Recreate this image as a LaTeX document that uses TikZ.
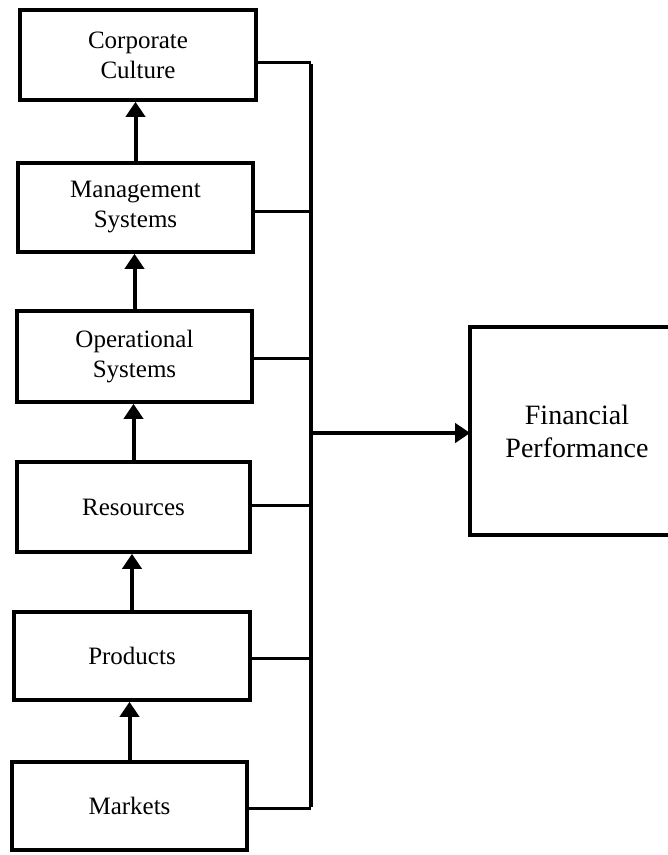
\documentclass[tikz,border=0pt]{standalone}
\usepackage{fontspec}
\setmainfont{Liberation Serif}
\usetikzlibrary{arrows.meta}
\begin{document}
\begin{tikzpicture}[x=1pt,y=-1pt,
  box/.style={draw, line width=3.6pt, rectangle, align=center, inner sep=0pt,
    font=\fontsize{25}{30}\selectfont},
  stub/.style={line width=3pt},
  bus/.style={line width=3.8pt},
  up/.style={line width=4pt, -{Triangle[length=15pt,width=19pt]}},
  right/.style={line width=4pt, -{Triangle[length=15pt,width=19pt]}}]
\useasboundingbox (0,0) rectangle (668,855);
\node[box, minimum width=236pt, minimum height=90pt] (corp) at (138,55) {Corporate\\Culture};
\node[box, minimum width=235pt, minimum height=89pt] (mgmt) at (135.5,207.5) {Management\\Systems};
\node[box, minimum width=235pt, minimum height=91pt] (oper) at (134.5,356.5) {Operational\\Systems};
\node[box, minimum width=233pt, minimum height=90pt] (res) at (133.5,507) {Resources};
\node[box, minimum width=236pt, minimum height=88pt] (prod) at (132,656) {Products};
\node[box, minimum width=235pt, minimum height=88pt] (mark) at (129.5,806) {Markets};
\node[box, draw=none, minimum width=210pt, minimum height=204pt, font=\fontsize{28}{33}\selectfont] (fin) at (577,431) {Financial\\Performance};
\draw[line width=3.6pt] ([xshift=30pt]fin.north east) -- (fin.north west) -- (fin.south west) -- ([xshift=30pt]fin.south east);
\coordinate (b1) at (311,62);
\coordinate (b2) at (311,211);
\coordinate (b3) at (311,358);
\coordinate (bm) at (311,433);
\coordinate (b4) at (311,505);
\coordinate (b5) at (311,658);
\coordinate (b6) at (311,808);
\draw[bus] ([yshift=-1.5pt]b1) -- ([yshift=1.5pt]b6);
\draw[stub] (corp.east |- b1) -- (b1);
\draw[stub] (mgmt.east |- b2) -- (b2);
\draw[stub] (oper.east |- b3) -- (b3);
\draw[stub] (res.east |- b4) -- (b4);
\draw[stub] (prod.east |- b5) -- (b5);
\draw[stub] (mark.east |- b6) -- (b6);
\draw[right] (bm) -- (fin.west |- bm);
\draw[up] (mgmt.north) -- (corp.south -| mgmt.north);
\draw[up] (oper.north) -- (mgmt.south -| oper.north);
\draw[up] (res.north) -- (oper.south -| res.north);
\draw[up] (prod.north) -- (res.south -| prod.north);
\draw[up] (mark.north) -- (prod.south -| mark.north);
\end{tikzpicture}
\end{document}
